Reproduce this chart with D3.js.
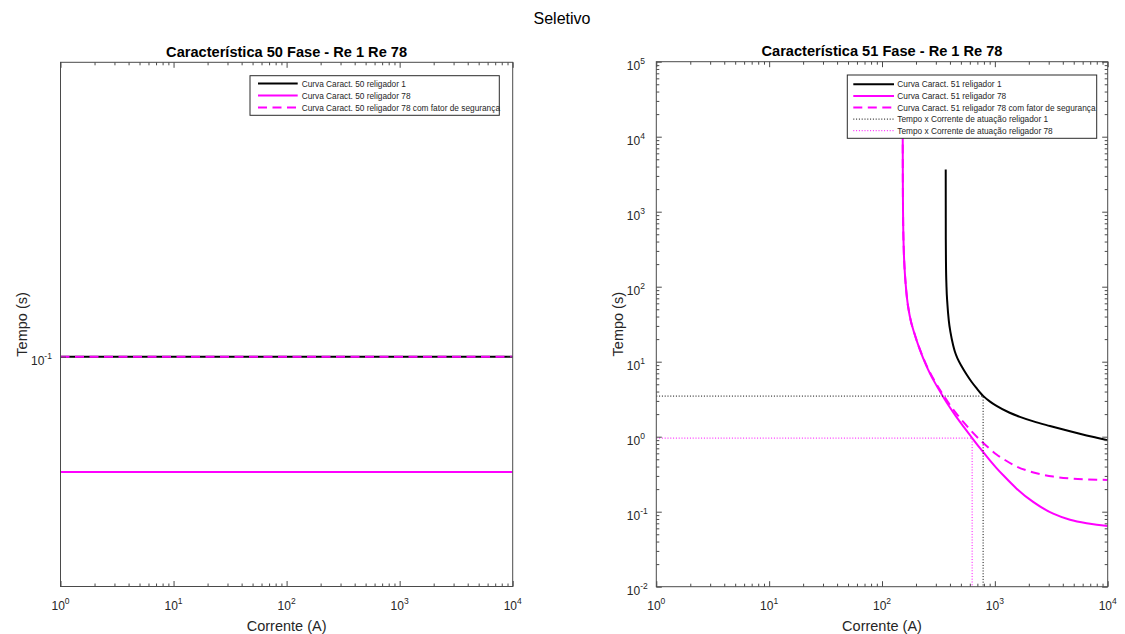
<!DOCTYPE html>
<html>
<head>
<meta charset="utf-8">
<script src="https://cdn.jsdelivr.net/npm/d3@7"></script>
<style>
  html, body { margin: 0; padding: 0; background: #ffffff; }
  svg { display: block; font-family: "Liberation Sans", Arial, Helvetica, sans-serif; }
</style>
</head>
<body>
<svg id="fig" width="1125" height="634"></svg>
<script>
// ---- Característica 50 (tempo definido), faixa de corrente em A ----
const correnteFaixa50 = [1, 10000];
const tempo50Religador1 = 0.1;
const tempo50Religador78 = 0.065;
const tempo50Religador78Seg = 0.1;
const limitesTempo50 = [0.0424, 0.30];

// ---- Característica 51 – religador 1 (corrente A, tempo s) ----
const corrente51R1 = [367.0, 367.3, 367.6, 369.0, 372.8, 380, 391, 405, 427, 442, 470, 506, 560, 621, 688, 787,
                      900, 1035, 1339, 1667, 2200, 3076, 4634, 6500, 8000, 10000];
const tempo51R1 = [3660, 1200, 430, 200, 100, 58, 35, 24.4, 16.6, 13.7, 10.8, 8.74, 6.79, 5.40, 4.43, 3.50,
                   2.96, 2.57, 2.10, 1.84, 1.60, 1.39, 1.18, 1.04, 0.967, 0.895];

// ---- Característica 51 – religador 78 ----
const corrente51R78 = [152.55, 152.7, 153.0, 153.6, 155.8, 158, 162.3, 166.6, 176, 195, 216, 248, 265, 294, 348,
                       400, 451, 530, 629, 736, 900, 1035, 1200, 1560, 2200, 3290, 4634, 6500, 8000, 10000];
const tempo51R78 = [30000, 8000, 2500, 1000, 322, 192, 106, 70, 41, 23, 14.6, 8.74, 7.07, 5.26, 3.42,
                    2.45, 1.88, 1.35, 0.961, 0.708, 0.488, 0.382, 0.301, 0.203, 0.134, 0.094, 0.078, 0.070, 0.0668, 0.0647];
const tempo51R78Seg = [30000, 8000, 2500, 1000, 322, 192, 106, 70, 41.2, 23.2, 14.8, 8.94, 7.27, 5.46, 3.62,
                       2.65, 2.08, 1.55, 1.16, 0.91, 0.69, 0.58, 0.50, 0.40, 0.334, 0.294, 0.278, 0.270, 0.267, 0.265];

// ---- Pontos de atuação [religador 1, religador 78] ----
const correnteAtuacao = [787, 629];
const tempoAtuacao = [3.48, 0.958];

// ---- Ticks ----
const decadasX = [1, 10, 100, 1000, 10000];
const expoentesX = ["0", "1", "2", "3", "4"];
const decadasY51 = [1e-2, 1e-1, 1, 10, 100, 1e3, 1e4, 1e5];
const expoentesY51 = ["-2", "-1", "0", "1", "2", "3", "4", "5"];
const decadasY50 = [0.1];
const expoentesY50 = ["-1"];

// ---- Textos ----
const tituloGeral = "Seletivo";
const titulo50 = "Característica 50 Fase - Re 1 Re 78";
const titulo51 = "Característica 51 Fase - Re 1 Re 78";
const rotuloX = "Corrente (A)";
const rotuloY = "Tempo (s)";
const legenda50 = ["Curva Caract. 50 religador 1", "Curva Caract. 50 religador 78",
                   "Curva Caract. 50 religador 78 com fator de segurança"];
const legenda51 = ["Curva Caract. 51 religador 1", "Curva Caract. 51 religador 78",
                   "Curva Caract. 51 religador 78 com fator de segurança",
                   "Tempo x Corrente de atuação religador 1", "Tempo x Corrente de atuação religador 78"];

const MAG = "#ff00ff", PRETO = "#000000";
const CORTEXTO = "#262626", COREIXO = "#4a4a4a";
const LW = 2, TRACO = "9,5.5", PONTO = "1,1.8";

const svg = d3.select("#fig");
svg.append("rect").attr("width", 1125).attr("height", 634).attr("fill", "#fff");

svg.append("text").attr("x", 562).attr("y", 24).attr("text-anchor", "middle")
  .attr("font-size", 16).attr("fill", "#000").text(tituloGeral);

function minorLog(lo, hi) {
  const out = [];
  for (let d = lo; d < hi * 0.999; d *= 10)
    for (let k = 2; k <= 9; k++) out.push(d * k);
  return out;
}

function painel(cfg) {
  const { x, y, id } = cfg;
  const [x0, x1] = x.range();
  const [y1, y0] = y.range();
  const g = svg.append("g");

  g.append("clipPath").attr("id", id).append("rect")
    .attr("x", x0).attr("y", y0).attr("width", x1 - x0).attr("height", y1 - y0);
  const plot = g.append("g").attr("clip-path", `url(#${id})`);

  // ticks: major e minor, para dentro, nos quatro lados
  const ax = (gen, tx, ty, vals, size) => {
    const a = g.append("g").attr("transform", `translate(${tx},${ty})`)
      .call(gen.tickValues(vals).tickSize(size).tickSizeOuter(0).tickFormat(""));
    a.select(".domain").remove();
    a.selectAll("line").attr("stroke", COREIXO).attr("stroke-width", 1);
  };
  const mx = minorLog(1, 1e4);
  ax(d3.axisBottom(x), 0, y1, decadasX, -5.5);
  ax(d3.axisBottom(x), 0, y1, mx, -3);
  ax(d3.axisTop(x), 0, y0, decadasX, -5.5);
  ax(d3.axisTop(x), 0, y0, mx, -3);
  ax(d3.axisLeft(y), x0, 0, cfg.decY, -5.5);
  ax(d3.axisRight(y), x1, 0, cfg.decY, -5.5);
  if (cfg.minY) {
    ax(d3.axisLeft(y), x0, 0, cfg.minY, -3);
    ax(d3.axisRight(y), x1, 0, cfg.minY, -3);
  }

  cfg.desenhar(plot);

  // moldura
  g.append("rect").attr("x", x0).attr("y", y0).attr("width", x1 - x0).attr("height", y1 - y0)
    .attr("fill", "none").attr("stroke", COREIXO).attr("stroke-width", 1);

  // rótulos dos ticks (10^n)
  decadasX.forEach((v, i) => {
    const t = g.append("text").attr("x", x(v)).attr("y", y1 + 23.5).attr("text-anchor", "middle")
      .attr("fill", CORTEXTO).attr("font-size", 12);
    t.append("tspan").text("10");
    t.append("tspan").attr("font-size", 8.5).attr("dy", -6).text(expoentesX[i]);
  });
  cfg.decY.forEach((v, i) => {
    const t = g.append("text").attr("x", x0 - 29.5).attr("y", y(v) + 8.5).attr("text-anchor", "start")
      .attr("fill", CORTEXTO).attr("font-size", 12);
    t.append("tspan").text("10");
    t.append("tspan").attr("font-size", 8.5).attr("dy", -6).text(cfg.expY[i]);
  });

  // títulos e rótulos
  g.append("text").attr("x", (x0 + x1) / 2).attr("y", y0 - 5.5).attr("text-anchor", "middle")
    .attr("font-size", 14.6).attr("font-weight", "bold").attr("fill", "#000").text(cfg.titulo);
  g.append("text").attr("x", (x0 + x1) / 2).attr("y", y1 + 44.5).attr("text-anchor", "middle")
    .attr("font-size", 14.5).attr("fill", CORTEXTO).text(rotuloX);
  g.append("text").attr("transform", `translate(${x0 - 33.5},${(y0 + y1) / 2}) rotate(-90)`)
    .attr("text-anchor", "middle").attr("font-size", 14.5).attr("fill", CORTEXTO).text(rotuloY);

  // legenda
  const L = cfg.legenda;
  const lg = g.append("g");
  lg.append("rect").attr("x", L.x).attr("y", L.y).attr("width", L.w).attr("height", L.h)
    .attr("fill", "#fff").attr("stroke", "#2b2b2b").attr("stroke-width", 1);
  L.itens.forEach((it, i) => {
    const cy = L.y + L.pad + i * L.passo;
    lg.append("line").attr("x1", L.x + L.l0).attr("x2", L.x + L.l1).attr("y1", cy).attr("y2", cy)
      .attr("stroke", it.cor).attr("stroke-width", it.lw)
      .attr("stroke-dasharray", it.dash || null);
    lg.append("text").attr("x", L.x + L.tx).attr("y", cy + 3).attr("font-size", L.fs)
      .attr("fill", CORTEXTO).text(it.texto);
  });
}

// ---------------- Característica 50 ----------------
const x50 = d3.scaleLog().domain([1, 1e4]).range([60.5, 512.7]);
const y50 = d3.scaleLog().domain(limitesTempo50).range([586.5, 62.3]);
painel({
  id: "clip50", x: x50, y: y50, decY: decadasY50, expY: expoentesY50, minY: null, titulo: titulo50,
  desenhar: (p) => {
    const linha = d3.line().x(d => x50(d[0])).y(d => y50(d[1]));
    const serie = (t) => correnteFaixa50.map(c => [c, t]);
    p.append("path").attr("d", linha(serie(tempo50Religador1))).attr("fill", "none")
      .attr("stroke", PRETO).attr("stroke-width", LW);
    p.append("path").attr("d", linha(serie(tempo50Religador78))).attr("fill", "none")
      .attr("stroke", MAG).attr("stroke-width", LW);
    p.append("path").attr("d", linha(serie(tempo50Religador78Seg))).attr("fill", "none")
      .attr("stroke", MAG).attr("stroke-width", LW).attr("stroke-dasharray", TRACO);
  },
  legenda: {
    x: 250, y: 75.7, w: 249.3, h: 39.6, pad: 7.8, passo: 12, l0: 8, l1: 47.7, tx: 51.7, fs: 8.3,
    itens: [
      { texto: legenda50[0], cor: PRETO, lw: LW },
      { texto: legenda50[1], cor: MAG, lw: LW },
      { texto: legenda50[2], cor: MAG, lw: LW, dash: TRACO }
    ]
  }
});

// ---------------- Característica 51 ----------------
const x51 = d3.scaleLog().domain([1, 1e4]).range([656.3, 1107.7]);
const y51 = d3.scaleLog().domain([1e-2, 1e5]).range([586.7, 61.7]);
painel({
  id: "clip51", x: x51, y: y51, decY: decadasY51, expY: expoentesY51, minY: minorLog(1e-2, 1e5), titulo: titulo51,
  desenhar: (p) => {
    const curva = d3.line().x(d => x51(d[0])).y(d => y51(d[1])).curve(d3.curveMonotoneX);
    const reta = d3.line().x(d => x51(d[0])).y(d => y51(d[1]));
    const par = (cs, ts) => cs.map((c, i) => [c, ts[i]]);
    p.append("path").attr("d", curva(par(corrente51R1, tempo51R1))).attr("fill", "none")
      .attr("stroke", PRETO).attr("stroke-width", LW);
    p.append("path").attr("d", curva(par(corrente51R78, tempo51R78))).attr("fill", "none")
      .attr("stroke", MAG).attr("stroke-width", LW);
    p.append("path").attr("d", curva(par(corrente51R78, tempo51R78Seg))).attr("fill", "none")
      .attr("stroke", MAG).attr("stroke-width", LW).attr("stroke-dasharray", TRACO);
    const [xmin] = x51.domain(), [ymin] = y51.domain();
    [PRETO, MAG].forEach((cor, i) => {
      const c = correnteAtuacao[i], t = tempoAtuacao[i];
      p.append("path").attr("d", reta([[xmin, t], [c, t], [c, ymin]])).attr("fill", "none")
        .attr("stroke", cor).attr("stroke-width", 1).attr("stroke-dasharray", PONTO);
    });
  },
  legenda: {
    x: 847.3, y: 75, w: 249.4, h: 63.3, pad: 9.3, passo: 11.6, l0: 6, l1: 46.7, tx: 50, fs: 8.3,
    itens: [
      { texto: legenda51[0], cor: PRETO, lw: LW },
      { texto: legenda51[1], cor: MAG, lw: LW },
      { texto: legenda51[2], cor: MAG, lw: LW, dash: TRACO },
      { texto: legenda51[3], cor: PRETO, lw: 1, dash: PONTO },
      { texto: legenda51[4], cor: MAG, lw: 1, dash: PONTO }
    ]
  }
});
</script>
</body>
</html>
